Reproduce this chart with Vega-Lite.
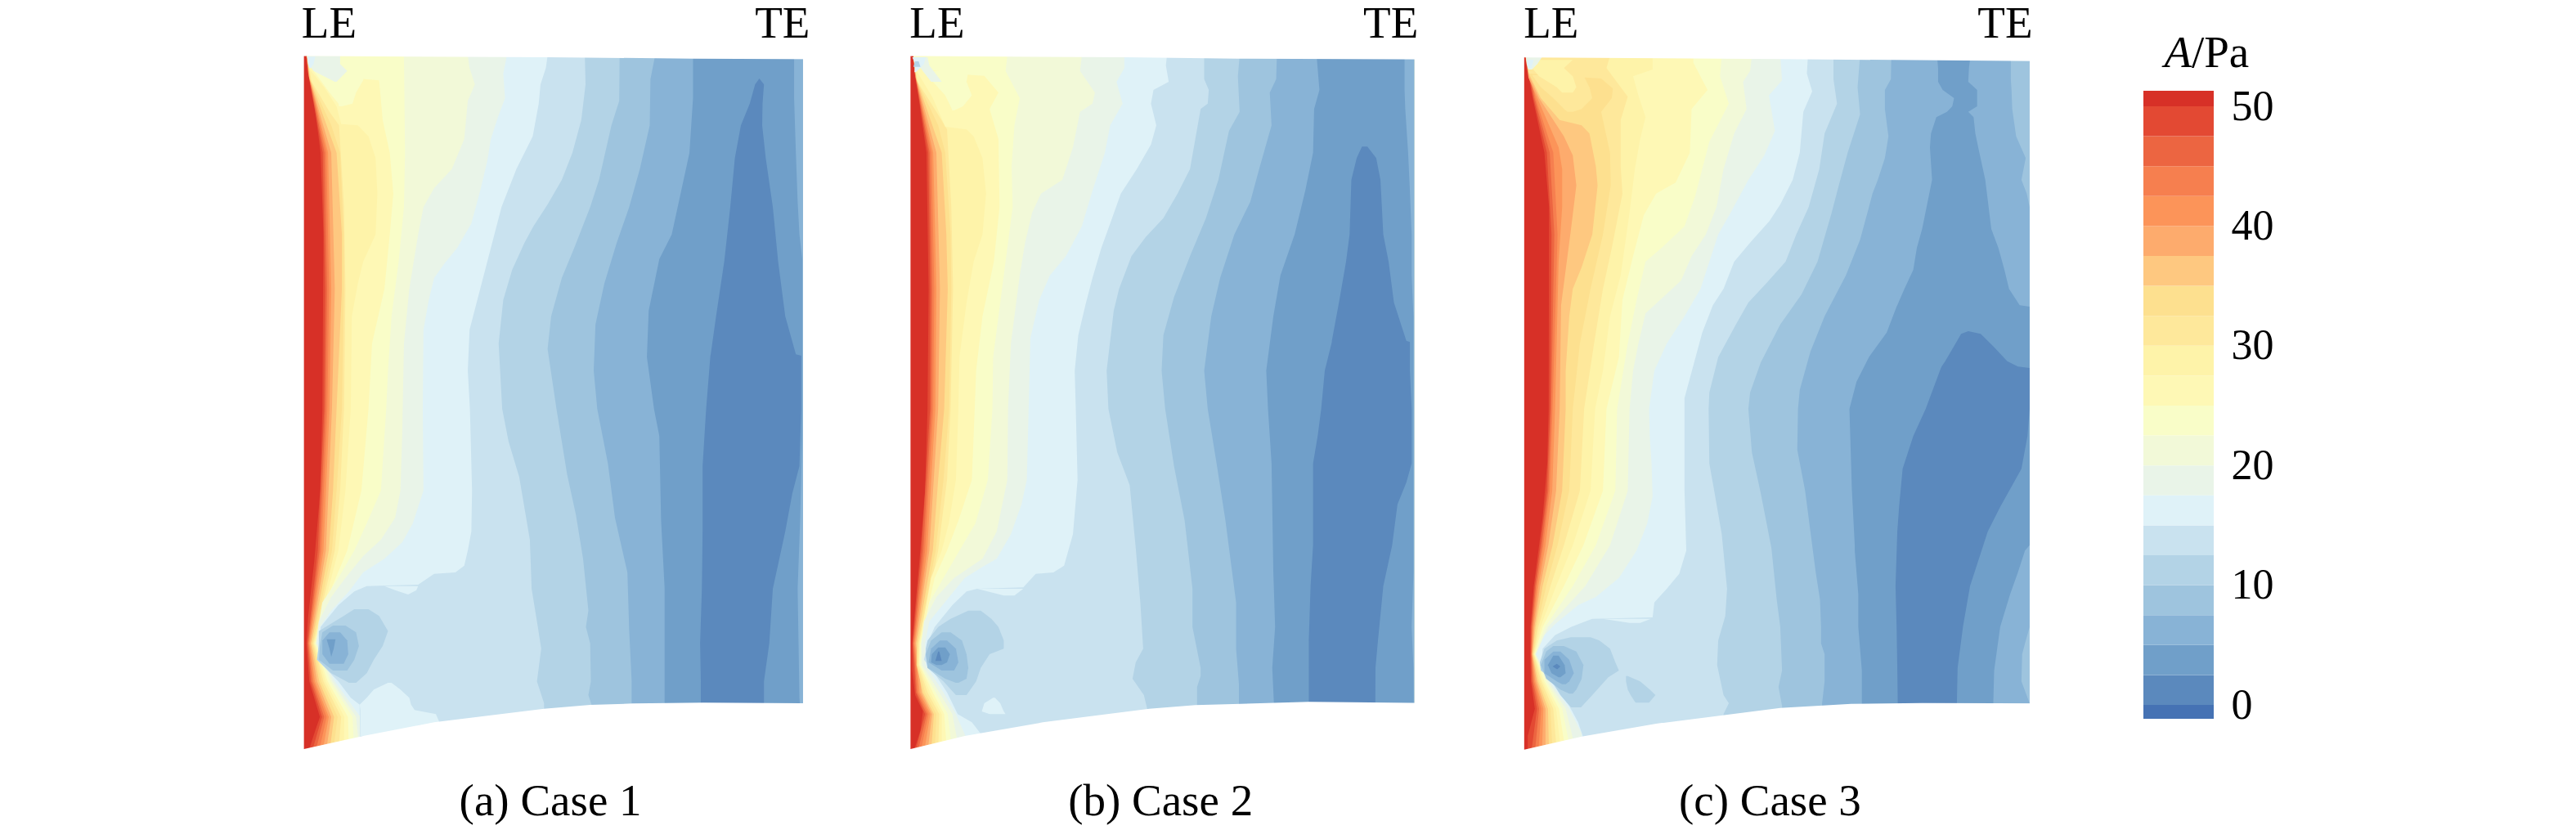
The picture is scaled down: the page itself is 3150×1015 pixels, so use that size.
{"$schema":"https://vega.github.io/schema/vega-lite/v6.json","padding":{"left":340,"top":0,"right":0,"bottom":0},"autosize":"pad","spacing":0,"bounds":"flush","config":{"view":{"stroke":null},"text":{"font":"Liberation Serif","fontSize":55,"color":"#000"}},
"datasets":{
"o1":[
{"b":51,"y":145,"x":73},{"b":51,"y":2700,"x":73},
{"b":50,"y":145,"x":80},{"b":50,"y":200,"x":84},{"b":50,"y":300,"x":100},{"b":50,"y":500,"x":120},{"b":50,"y":800,"x":128},{"b":50,"y":1440,"x":125},{"b":50,"y":1740,"x":119},{"b":50,"y":2000,"x":102},{"b":50,"y":2200,"x":85},{"b":50,"y":2300,"x":80},{"b":50,"y":2440,"x":88},{"b":50,"y":2570,"x":118},{"b":50,"y":2620,"x":105},{"b":50,"y":2700,"x":85},
{"b":47.5,"y":145,"x":80},{"b":47.5,"y":210,"x":85},{"b":47.5,"y":500,"x":126},{"b":47.5,"y":1000,"x":133},{"b":47.5,"y":1440,"x":130},{"b":47.5,"y":1960,"x":112},{"b":47.5,"y":2300,"x":83},{"b":47.5,"y":2440,"x":92},{"b":47.5,"y":2570,"x":124},{"b":47.5,"y":2700,"x":95},
{"b":45,"y":145,"x":80},{"b":45,"y":215,"x":86},{"b":45,"y":500,"x":131},{"b":45,"y":1000,"x":138},{"b":45,"y":1440,"x":134},{"b":45,"y":1960,"x":117},{"b":45,"y":2300,"x":85},{"b":45,"y":2440,"x":96},{"b":45,"y":2570,"x":130},{"b":45,"y":2700,"x":105},
{"b":42.5,"y":145,"x":81},{"b":42.5,"y":220,"x":87},{"b":42.5,"y":500,"x":136},{"b":42.5,"y":1000,"x":144},{"b":42.5,"y":1440,"x":139},{"b":42.5,"y":1960,"x":122},{"b":42.5,"y":2300,"x":87},{"b":42.5,"y":2440,"x":100},{"b":42.5,"y":2570,"x":137},{"b":42.5,"y":2700,"x":115},
{"b":40,"y":145,"x":81},{"b":40,"y":222,"x":88},{"b":40,"y":500,"x":141},{"b":40,"y":1000,"x":150},{"b":40,"y":1440,"x":145},{"b":40,"y":1960,"x":128},{"b":40,"y":2300,"x":89},{"b":40,"y":2440,"x":104},{"b":40,"y":2570,"x":143},{"b":40,"y":2700,"x":125},
{"b":37.5,"y":145,"x":82},{"b":37.5,"y":225,"x":88},{"b":37.5,"y":500,"x":150},{"b":37.5,"y":1000,"x":160},{"b":37.5,"y":1440,"x":152},{"b":37.5,"y":1960,"x":135},{"b":37.5,"y":2300,"x":92},{"b":37.5,"y":2440,"x":110},{"b":37.5,"y":2570,"x":150},{"b":37.5,"y":2700,"x":135},
{"b":35,"y":145,"x":82},{"b":35,"y":230,"x":90},{"b":35,"y":500,"x":165},{"b":35,"y":800,"x":180},{"b":35,"y":1000,"x":180},{"b":35,"y":1440,"x":165},{"b":35,"y":1740,"x":155},{"b":35,"y":1960,"x":143},{"b":35,"y":2300,"x":95},{"b":35,"y":2440,"x":116},{"b":35,"y":2570,"x":158},{"b":35,"y":2700,"x":145},
{"b":32.5,"y":145,"x":82},{"b":32.5,"y":235,"x":92},{"b":32.5,"y":400,"x":150},{"b":32.5,"y":500,"x":175},{"b":32.5,"y":800,"x":185},{"b":32.5,"y":1000,"x":186},{"b":32.5,"y":1440,"x":180},{"b":32.5,"y":1740,"x":165},{"b":32.5,"y":1960,"x":152},{"b":32.5,"y":2300,"x":98},{"b":32.5,"y":2440,"x":122},{"b":32.5,"y":2570,"x":168},{"b":32.5,"y":2700,"x":155},
{"b":30,"y":145,"x":82},{"b":30,"y":240,"x":95},{"b":30,"y":350,"x":145},{"b":30,"y":400,"x":172},{"b":30,"y":700,"x":186},{"b":30,"y":1000,"x":190},{"b":30,"y":1440,"x":186},{"b":30,"y":1740,"x":175},{"b":30,"y":1960,"x":160},{"b":30,"y":2300,"x":100},{"b":30,"y":2440,"x":128},{"b":30,"y":2570,"x":178},{"b":30,"y":2700,"x":170},
{"b":27.5,"y":145,"x":82},{"b":27.5,"y":195,"x":90},{"b":27.5,"y":260,"x":130},{"b":27.5,"y":330,"x":165},{"b":27.5,"y":395,"x":178},{"b":27.5,"y":400,"x":225},{"b":27.5,"y":440,"x":255},{"b":27.5,"y":520,"x":275},{"b":27.5,"y":650,"x":280},{"b":27.5,"y":800,"x":275},{"b":27.5,"y":900,"x":240},{"b":27.5,"y":980,"x":225},{"b":27.5,"y":1100,"x":208},{"b":27.5,"y":1440,"x":205},{"b":27.5,"y":1740,"x":190},{"b":27.5,"y":1960,"x":170},{"b":27.5,"y":2300,"x":102},{"b":27.5,"y":2440,"x":134},{"b":27.5,"y":2570,"x":187},{"b":27.5,"y":2700,"x":185},
{"b":25,"y":145,"x":85},{"b":25,"y":190,"x":95},{"b":25,"y":230,"x":245},{"b":25,"y":235,"x":285},{"b":25,"y":380,"x":295},{"b":25,"y":500,"x":315},{"b":25,"y":650,"x":325},{"b":25,"y":800,"x":315},{"b":25,"y":1000,"x":300},{"b":25,"y":1200,"x":265},{"b":25,"y":1440,"x":255},{"b":25,"y":1740,"x":235},{"b":25,"y":1960,"x":195},{"b":25,"y":2100,"x":150},{"b":25,"y":2300,"x":104},{"b":25,"y":2440,"x":140},{"b":25,"y":2570,"x":197},{"b":25,"y":2700,"x":200},
{"b":22.5,"y":145,"x":355},{"b":22.5,"y":500,"x":358},{"b":22.5,"y":700,"x":355},{"b":22.5,"y":900,"x":340},{"b":22.5,"y":1100,"x":320},{"b":22.5,"y":1300,"x":310},{"b":22.5,"y":1440,"x":305},{"b":22.5,"y":1740,"x":290},{"b":22.5,"y":1860,"x":250},{"b":22.5,"y":1960,"x":215},{"b":22.5,"y":2060,"x":170},{"b":22.5,"y":2150,"x":125},{"b":22.5,"y":2300,"x":106},{"b":22.5,"y":2440,"x":147},{"b":22.5,"y":2570,"x":210},{"b":22.5,"y":2700,"x":215},
{"b":20,"y":145,"x":535},{"b":20,"y":190,"x":540},{"b":20,"y":250,"x":555},{"b":20,"y":310,"x":535},{"b":20,"y":450,"x":525},{"b":20,"y":560,"x":490},{"b":20,"y":630,"x":440},{"b":20,"y":700,"x":410},{"b":20,"y":800,"x":395},{"b":20,"y":1000,"x":370},{"b":20,"y":1200,"x":355},{"b":20,"y":1540,"x":350},{"b":20,"y":1740,"x":345},{"b":20,"y":1840,"x":330},{"b":20,"y":1920,"x":290},{"b":20,"y":1980,"x":240},{"b":20,"y":2060,"x":190},{"b":20,"y":2130,"x":150},{"b":20,"y":2220,"x":115},{"b":20,"y":2300,"x":108},{"b":20,"y":2440,"x":153},{"b":20,"y":2570,"x":220},{"b":20,"y":2700,"x":230},
{"b":17.5,"y":145,"x":645},{"b":17.5,"y":210,"x":635},{"b":17.5,"y":300,"x":640},{"b":17.5,"y":370,"x":620},{"b":17.5,"y":450,"x":600},{"b":17.5,"y":530,"x":590},{"b":17.5,"y":640,"x":570},{"b":17.5,"y":760,"x":545},{"b":17.5,"y":850,"x":505},{"b":17.5,"y":905,"x":470},{"b":17.5,"y":960,"x":440},{"b":17.5,"y":1040,"x":425},{"b":17.5,"y":1150,"x":410},{"b":17.5,"y":1440,"x":408},{"b":17.5,"y":1740,"x":410},{"b":17.5,"y":1860,"x":380},{"b":17.5,"y":1930,"x":350},{"b":17.5,"y":1990,"x":300},{"b":17.5,"y":2040,"x":240},{"b":17.5,"y":2110,"x":200},{"b":17.5,"y":2180,"x":150},{"b":17.5,"y":2240,"x":118},{"b":17.5,"y":2300,"x":110},{"b":17.5,"y":2440,"x":160},{"b":17.5,"y":2570,"x":232},{"b":17.5,"y":2700,"x":245},
{"b":15,"y":145,"x":760},{"b":15,"y":190,"x":755},{"b":15,"y":250,"x":740},{"b":15,"y":320,"x":735},{"b":15,"y":440,"x":718},{"b":15,"y":560,"x":672},{"b":15,"y":700,"x":630},{"b":15,"y":850,"x":600},{"b":15,"y":1000,"x":570},{"b":15,"y":1150,"x":540},{"b":15,"y":1300,"x":535},{"b":15,"y":1440,"x":541},{"b":15,"y":1740,"x":547},{"b":15,"y":1890,"x":545},{"b":15,"y":1960,"x":535},{"b":15,"y":2015,"x":525},{"b":15,"y":2040,"x":500},{"b":15,"y":2045,"x":440},{"b":15,"y":2085,"x":395},{"b":15,"y":2090,"x":250},{"b":15,"y":2110,"x":215},{"b":15,"y":2160,"x":170},{"b":15,"y":2240,"x":120},{"b":15,"y":2310,"x":114},{"b":15,"y":2360,"x":110},{"b":15,"y":2440,"x":170},{"b":15,"y":2500,"x":205},{"b":15,"y":2525,"x":230},{"b":15,"y":2700,"x":232},
{"b":12.5,"y":145,"x":865},{"b":12.5,"y":250,"x":867},{"b":12.5,"y":380,"x":855},{"b":12.5,"y":500,"x":830},{"b":12.5,"y":600,"x":800},{"b":12.5,"y":690,"x":760},{"b":12.5,"y":770,"x":720},{"b":12.5,"y":830,"x":695},{"b":12.5,"y":930,"x":660},{"b":12.5,"y":1040,"x":635},{"b":12.5,"y":1200,"x":622},{"b":12.5,"y":1440,"x":632},{"b":12.5,"y":1560,"x":650},{"b":12.5,"y":1690,"x":680},{"b":12.5,"y":1920,"x":710},{"b":12.5,"y":2100,"x":715},{"b":12.5,"y":2220,"x":730},{"b":12.5,"y":2320,"x":742},{"b":12.5,"y":2440,"x":730},{"b":12.5,"y":2520,"x":750},{"b":12.5,"y":2700,"x":750},
{"b":10,"y":145,"x":963},{"b":10,"y":310,"x":962},{"b":10,"y":400,"x":940},{"b":10,"y":600,"x":905},{"b":10,"y":700,"x":880},{"b":10,"y":850,"x":835},{"b":10,"y":960,"x":800},{"b":10,"y":1100,"x":770},{"b":10,"y":1220,"x":760},{"b":10,"y":1440,"x":785},{"b":10,"y":1680,"x":815},{"b":10,"y":1830,"x":840},{"b":10,"y":1990,"x":860},{"b":10,"y":2180,"x":875},{"b":10,"y":2240,"x":868},{"b":10,"y":2300,"x":880},{"b":10,"y":2440,"x":882},{"b":10,"y":2490,"x":875},{"b":10,"y":2530,"x":885},{"b":10,"y":2700,"x":885},
{"b":7.5,"y":145,"x":1063},{"b":7.5,"y":230,"x":1050},{"b":7.5,"y":400,"x":1048},{"b":7.5,"y":560,"x":1020},{"b":7.5,"y":700,"x":990},{"b":7.5,"y":830,"x":955},{"b":7.5,"y":980,"x":920},{"b":7.5,"y":1130,"x":895},{"b":7.5,"y":1300,"x":890},{"b":7.5,"y":1440,"x":900},{"b":7.5,"y":1640,"x":930},{"b":7.5,"y":1840,"x":950},{"b":7.5,"y":2040,"x":985},{"b":7.5,"y":2250,"x":990},{"b":7.5,"y":2440,"x":997},{"b":7.5,"y":2700,"x":997}
],
"c1":[
{"p":"a","b":5,"y":145,"x":1170,"e":1455},{"p":"a","b":5,"y":300,"x":1170,"e":1455},{"p":"a","b":5,"y":500,"x":1160,"e":1460},{"p":"a","b":5,"y":680,"x":1130,"e":1465},{"p":"a","b":5,"y":800,"x":1110,"e":1470},{"p":"a","b":5,"y":890,"x":1075,"e":1478},{"p":"a","b":5,"y":1080,"x":1045,"e":1478},{"p":"a","b":5,"y":1250,"x":1040,"e":1478},{"p":"a","b":5,"y":1440,"x":1060,"e":1478},{"p":"a","b":5,"y":1540,"x":1075,"e":1478},{"p":"a","b":5,"y":1850,"x":1080,"e":1472},{"p":"a","b":5,"y":2100,"x":1090,"e":1465},{"p":"a","b":5,"y":2500,"x":1090,"e":1470},{"p":"a","b":5,"y":2700,"x":1090,"e":1480},
{"p":"b","b":2.5,"y":228,"x":1357,"e":1357},{"p":"b","b":2.5,"y":250,"x":1345,"e":1370},{"p":"b","b":2.5,"y":320,"x":1330,"e":1366},{"p":"b","b":2.5,"y":400,"x":1305,"e":1365},{"p":"b","b":2.5,"y":520,"x":1288,"e":1375},{"p":"b","b":2.5,"y":700,"x":1275,"e":1395},{"p":"b","b":2.5,"y":900,"x":1258,"e":1410},{"p":"b","b":2.5,"y":1100,"x":1235,"e":1430},{"p":"b","b":2.5,"y":1240,"x":1220,"e":1460},{"p":"b","b":2.5,"y":1245,"x":1219,"e":1475},{"p":"b","b":2.5,"y":1440,"x":1207,"e":1475},{"p":"b","b":2.5,"y":1650,"x":1197,"e":1470},{"p":"b","b":2.5,"y":1750,"x":1197,"e":1450},{"p":"b","b":2.5,"y":1890,"x":1197,"e":1430},{"p":"b","b":2.5,"y":2100,"x":1195,"e":1395},{"p":"b","b":2.5,"y":2300,"x":1190,"e":1385},{"p":"b","b":2.5,"y":2440,"x":1192,"e":1370},{"p":"b","b":2.5,"y":2700,"x":1192,"e":1370},
{"p":"t1","b":25,"y":200,"x":100,"e":245},{"p":"t1","b":25,"y":235,"x":120,"e":240},{"p":"t1","b":25,"y":280,"x":145,"e":220},{"p":"t1","b":25,"y":320,"x":170,"e":210},{"p":"t1","b":25,"y":330,"x":172,"e":180},
{"p":"t2","b":17.5,"y":2090,"x":300,"e":395},{"p":"t2","b":17.5,"y":2105,"x":330,"e":390},{"p":"t2","b":17.5,"y":2120,"x":365,"e":368},
{"p":"t3","b":17.5,"y":2445,"x":310,"e":320},{"p":"t3","b":17.5,"y":2470,"x":270,"e":345},{"p":"t3","b":17.5,"y":2500,"x":250,"e":370},{"p":"t3","b":17.5,"y":2525,"x":230,"e":375},{"p":"t3","b":17.5,"y":2545,"x":232,"e":385},{"p":"t3","b":17.5,"y":2560,"x":232,"e":445},{"p":"t3","b":17.5,"y":2590,"x":232,"e":455},{"p":"t3","b":17.5,"y":2640,"x":232,"e":445},
{"p":"t4","b":20,"y":145,"x":82,"e":175},{"p":"t4","b":20,"y":175,"x":85,"e":175},{"p":"t4","b":20,"y":200,"x":100,"e":195},{"p":"t4","b":20,"y":240,"x":160,"e":165},
{"p":"t5","b":17.5,"y":148,"x":82,"e":105},{"p":"t5","b":17.5,"y":175,"x":85,"e":100},{"p":"t5","b":17.5,"y":190,"x":88,"e":92},
{"p":"v1","b":12.5,"y":2175,"x":215,"e":255},{"p":"v1","b":12.5,"y":2200,"x":185,"e":285},{"p":"v1","b":12.5,"y":2255,"x":115,"e":310},{"p":"v1","b":12.5,"y":2310,"x":115,"e":295},{"p":"v1","b":12.5,"y":2360,"x":110,"e":270},{"p":"v1","b":12.5,"y":2410,"x":150,"e":250},{"p":"v1","b":12.5,"y":2445,"x":200,"e":220},
{"p":"v2","b":10,"y":2235,"x":155,"e":190},{"p":"v2","b":10,"y":2260,"x":125,"e":220},{"p":"v2","b":10,"y":2310,"x":118,"e":228},{"p":"v2","b":10,"y":2360,"x":115,"e":215},{"p":"v2","b":10,"y":2400,"x":155,"e":195},
{"p":"v3","b":7.5,"y":2260,"x":145,"e":175},{"p":"v3","b":7.5,"y":2290,"x":125,"e":195},{"p":"v3","b":7.5,"y":2340,"x":125,"e":198},{"p":"v3","b":7.5,"y":2375,"x":145,"e":185},
{"p":"v4","b":5,"y":2285,"x":137,"e":162},{"p":"v4","b":5,"y":2320,"x":145,"e":157},{"p":"v4","b":5,"y":2350,"x":150,"e":150}
],
"m1":[{"m":"t","x":0,"y":145,"z":100},{"m":"t","x":760,"y":150,"z":100},{"m":"t","x":1170,"y":155,"z":100},{"m":"t","x":1600,"y":158,"z":100},
{"m":"b","x":0,"y":2688,"z":2985},{"m":"b","x":73,"y":2688,"z":2985},{"m":"b","x":240,"y":2640,"z":2985},{"m":"b","x":440,"y":2590,"z":2985},{"m":"b","x":750,"y":2540,"z":2985},{"m":"b","x":880,"y":2526,"z":2985},{"m":"b","x":1000,"y":2521,"z":2985},{"m":"b","x":1200,"y":2518,"z":2985},{"m":"b","x":1600,"y":2521,"z":2985}],
"t1":[{"t":"LE","x":144,"y":78},{"t":"TE","x":1422,"y":78},{"t":"(a) Case 1","x":768,"y":2930}],
"o2":[
{"b":51,"y":145,"x":77},{"b":51,"y":2700,"x":77},
{"b":50,"y":145,"x":85},{"b":50,"y":200,"x":88},{"b":50,"y":300,"x":100},{"b":50,"y":500,"x":122},{"b":50,"y":1000,"x":128},{"b":50,"y":1440,"x":125},{"b":50,"y":1740,"x":118},{"b":50,"y":2000,"x":102},{"b":50,"y":2200,"x":88},{"b":50,"y":2300,"x":82},{"b":50,"y":2400,"x":82},{"b":50,"y":2490,"x":90},{"b":50,"y":2550,"x":112},{"b":50,"y":2620,"x":105},{"b":50,"y":2700,"x":85},
{"b":47.5,"y":145,"x":85},{"b":47.5,"y":210,"x":89},{"b":47.5,"y":500,"x":127},{"b":47.5,"y":1000,"x":133},{"b":47.5,"y":1440,"x":132},{"b":47.5,"y":1960,"x":108},{"b":47.5,"y":2300,"x":83},{"b":47.5,"y":2480,"x":92},{"b":47.5,"y":2560,"x":118},{"b":47.5,"y":2700,"x":90},
{"b":45,"y":145,"x":85},{"b":45,"y":215,"x":90},{"b":45,"y":500,"x":131},{"b":45,"y":1000,"x":138},{"b":45,"y":1440,"x":136},{"b":45,"y":1960,"x":113},{"b":45,"y":2300,"x":85},{"b":45,"y":2480,"x":95},{"b":45,"y":2560,"x":123},{"b":45,"y":2700,"x":97},
{"b":42.5,"y":145,"x":85},{"b":42.5,"y":220,"x":91},{"b":42.5,"y":500,"x":136},{"b":42.5,"y":1000,"x":144},{"b":42.5,"y":1440,"x":141},{"b":42.5,"y":1960,"x":118},{"b":42.5,"y":2300,"x":87},{"b":42.5,"y":2480,"x":99},{"b":42.5,"y":2560,"x":128},{"b":42.5,"y":2700,"x":105},
{"b":40,"y":145,"x":85},{"b":40,"y":225,"x":92},{"b":40,"y":500,"x":141},{"b":40,"y":1000,"x":150},{"b":40,"y":1440,"x":147},{"b":40,"y":1960,"x":124},{"b":40,"y":2300,"x":89},{"b":40,"y":2480,"x":103},{"b":40,"y":2560,"x":133},{"b":40,"y":2700,"x":115},
{"b":37.5,"y":145,"x":85},{"b":37.5,"y":228,"x":93},{"b":37.5,"y":500,"x":150},{"b":37.5,"y":1000,"x":160},{"b":37.5,"y":1440,"x":155},{"b":37.5,"y":1960,"x":130},{"b":37.5,"y":2300,"x":92},{"b":37.5,"y":2480,"x":108},{"b":37.5,"y":2560,"x":138},{"b":37.5,"y":2700,"x":125},
{"b":35,"y":145,"x":85},{"b":35,"y":230,"x":94},{"b":35,"y":500,"x":165},{"b":35,"y":800,"x":178},{"b":35,"y":1000,"x":182},{"b":35,"y":1440,"x":172},{"b":35,"y":1700,"x":155},{"b":35,"y":1960,"x":140},{"b":35,"y":2300,"x":95},{"b":35,"y":2380,"x":94},{"b":35,"y":2480,"x":112},{"b":35,"y":2560,"x":143},{"b":35,"y":2700,"x":135},
{"b":32.5,"y":145,"x":85},{"b":32.5,"y":235,"x":95},{"b":32.5,"y":400,"x":155},{"b":32.5,"y":500,"x":175},{"b":32.5,"y":800,"x":190},{"b":32.5,"y":1000,"x":192},{"b":32.5,"y":1440,"x":186},{"b":32.5,"y":1700,"x":170},{"b":32.5,"y":1960,"x":148},{"b":32.5,"y":2300,"x":98},{"b":32.5,"y":2380,"x":97},{"b":32.5,"y":2480,"x":118},{"b":32.5,"y":2560,"x":150},{"b":32.5,"y":2700,"x":145},
{"b":30,"y":145,"x":85},{"b":30,"y":240,"x":97},{"b":30,"y":350,"x":150},{"b":30,"y":415,"x":180},{"b":30,"y":700,"x":192},{"b":30,"y":1000,"x":197},{"b":30,"y":1440,"x":190},{"b":30,"y":1700,"x":180},{"b":30,"y":1960,"x":155},{"b":30,"y":2300,"x":100},{"b":30,"y":2380,"x":99},{"b":30,"y":2480,"x":125},{"b":30,"y":2560,"x":158},{"b":30,"y":2700,"x":155},
{"b":27.5,"y":145,"x":85},{"b":27.5,"y":195,"x":92},{"b":27.5,"y":300,"x":140},{"b":27.5,"y":405,"x":175},{"b":27.5,"y":415,"x":235},{"b":27.5,"y":440,"x":255},{"b":27.5,"y":520,"x":280},{"b":27.5,"y":650,"x":290},{"b":27.5,"y":800,"x":280},{"b":27.5,"y":900,"x":255},{"b":27.5,"y":1050,"x":235},{"b":27.5,"y":1250,"x":215},{"b":27.5,"y":1440,"x":212},{"b":27.5,"y":1700,"x":205},{"b":27.5,"y":1860,"x":185},{"b":27.5,"y":1960,"x":165},{"b":27.5,"y":2060,"x":135},{"b":27.5,"y":2300,"x":102},{"b":27.5,"y":2380,"x":101},{"b":27.5,"y":2480,"x":132},{"b":27.5,"y":2560,"x":165},{"b":27.5,"y":2700,"x":165},
{"b":25,"y":145,"x":85},{"b":25,"y":190,"x":95},{"b":25,"y":214,"x":235},{"b":25,"y":218,"x":285},{"b":25,"y":280,"x":325},{"b":25,"y":340,"x":300},{"b":25,"y":450,"x":325},{"b":25,"y":700,"x":328},{"b":25,"y":900,"x":312},{"b":25,"y":1100,"x":280},{"b":25,"y":1300,"x":262},{"b":25,"y":1440,"x":258},{"b":25,"y":1700,"x":250},{"b":25,"y":1850,"x":212},{"b":25,"y":1960,"x":180},{"b":25,"y":2060,"x":145},{"b":25,"y":2300,"x":104},{"b":25,"y":2380,"x":103},{"b":25,"y":2480,"x":140},{"b":25,"y":2560,"x":172},{"b":25,"y":2700,"x":180},
{"b":22.5,"y":145,"x":350},{"b":22.5,"y":200,"x":345},{"b":22.5,"y":300,"x":385},{"b":22.5,"y":400,"x":370},{"b":22.5,"y":550,"x":362},{"b":22.5,"y":700,"x":365},{"b":22.5,"y":850,"x":350},{"b":22.5,"y":1050,"x":330},{"b":22.5,"y":1250,"x":310},{"b":22.5,"y":1440,"x":308},{"b":22.5,"y":1700,"x":295},{"b":22.5,"y":1860,"x":260},{"b":22.5,"y":1960,"x":215},{"b":22.5,"y":2060,"x":170},{"b":22.5,"y":2150,"x":130},{"b":22.5,"y":2300,"x":106},{"b":22.5,"y":2380,"x":105},{"b":22.5,"y":2480,"x":148},{"b":22.5,"y":2560,"x":182},{"b":22.5,"y":2700,"x":195},
{"b":20,"y":145,"x":560},{"b":20,"y":200,"x":555},{"b":20,"y":280,"x":597},{"b":20,"y":320,"x":590},{"b":20,"y":350,"x":555},{"b":20,"y":480,"x":535},{"b":20,"y":600,"x":505},{"b":20,"y":650,"x":445},{"b":20,"y":720,"x":420},{"b":20,"y":830,"x":400},{"b":20,"y":950,"x":385},{"b":20,"y":1200,"x":360},{"b":20,"y":1440,"x":352},{"b":20,"y":1700,"x":350},{"b":20,"y":1890,"x":320},{"b":20,"y":1990,"x":280},{"b":20,"y":2060,"x":200},{"b":20,"y":2130,"x":150},{"b":20,"y":2220,"x":115},{"b":20,"y":2300,"x":108},{"b":20,"y":2380,"x":110},{"b":20,"y":2480,"x":158},{"b":20,"y":2560,"x":195},{"b":20,"y":2700,"x":215},
{"b":17.5,"y":145,"x":680},{"b":17.5,"y":190,"x":680},{"b":17.5,"y":240,"x":658},{"b":17.5,"y":320,"x":675},{"b":17.5,"y":400,"x":640},{"b":17.5,"y":500,"x":625},{"b":17.5,"y":640,"x":590},{"b":17.5,"y":770,"x":560},{"b":17.5,"y":880,"x":515},{"b":17.5,"y":950,"x":470},{"b":17.5,"y":1040,"x":440},{"b":17.5,"y":1180,"x":415},{"b":17.5,"y":1440,"x":410},{"b":17.5,"y":1700,"x":405},{"b":17.5,"y":1790,"x":390},{"b":17.5,"y":1900,"x":360},{"b":17.5,"y":1990,"x":320},{"b":17.5,"y":2020,"x":280},{"b":17.5,"y":2060,"x":230},{"b":17.5,"y":2140,"x":180},{"b":17.5,"y":2220,"x":130},{"b":17.5,"y":2300,"x":118},{"b":17.5,"y":2380,"x":120},{"b":17.5,"y":2480,"x":170},{"b":17.5,"y":2560,"x":205},{"b":17.5,"y":2640,"x":232},{"b":17.5,"y":2700,"x":232},
{"b":15,"y":145,"x":800},{"b":15,"y":180,"x":797},{"b":15,"y":240,"x":805},{"b":15,"y":270,"x":762},{"b":15,"y":320,"x":755},{"b":15,"y":400,"x":770},{"b":15,"y":470,"x":755},{"b":15,"y":560,"x":715},{"b":15,"y":650,"x":670},{"b":15,"y":760,"x":640},{"b":15,"y":850,"x":615},{"b":15,"y":960,"x":590},{"b":15,"y":1060,"x":570},{"b":15,"y":1170,"x":550},{"b":15,"y":1300,"x":540},{"b":15,"y":1440,"x":543},{"b":15,"y":1700,"x":548},{"b":15,"y":1900,"x":535},{"b":15,"y":2015,"x":510},{"b":15,"y":2040,"x":480},{"b":15,"y":2045,"x":430},{"b":15,"y":2095,"x":395},{"b":15,"y":2100,"x":265},{"b":15,"y":2110,"x":235},{"b":15,"y":2160,"x":195},{"b":15,"y":2240,"x":145},{"b":15,"y":2300,"x":125},{"b":15,"y":2360,"x":115},{"b":15,"y":2420,"x":150},{"b":15,"y":2480,"x":180},{"b":15,"y":2560,"x":210},{"b":15,"y":2590,"x":250},{"b":15,"y":2640,"x":280},{"b":15,"y":2700,"x":280},
{"b":12.5,"y":145,"x":905},{"b":12.5,"y":230,"x":905},{"b":12.5,"y":270,"x":918},{"b":12.5,"y":320,"x":915},{"b":12.5,"y":340,"x":895},{"b":12.5,"y":450,"x":880},{"b":12.5,"y":560,"x":865},{"b":12.5,"y":650,"x":830},{"b":12.5,"y":740,"x":790},{"b":12.5,"y":810,"x":740},{"b":12.5,"y":880,"x":700},{"b":12.5,"y":1000,"x":665},{"b":12.5,"y":1080,"x":650},{"b":12.5,"y":1300,"x":630},{"b":12.5,"y":1440,"x":635},{"b":12.5,"y":1600,"x":660},{"b":12.5,"y":1720,"x":695},{"b":12.5,"y":1950,"x":712},{"b":12.5,"y":2150,"x":725},{"b":12.5,"y":2320,"x":733},{"b":12.5,"y":2370,"x":712},{"b":12.5,"y":2430,"x":703},{"b":12.5,"y":2490,"x":735},{"b":12.5,"y":2560,"x":748},{"b":12.5,"y":2700,"x":748},
{"b":10,"y":145,"x":1005},{"b":10,"y":220,"x":1000},{"b":10,"y":350,"x":1005},{"b":10,"y":420,"x":975},{"b":10,"y":600,"x":945},{"b":10,"y":740,"x":910},{"b":10,"y":880,"x":865},{"b":10,"y":1030,"x":820},{"b":10,"y":1170,"x":790},{"b":10,"y":1300,"x":785},{"b":10,"y":1440,"x":795},{"b":10,"y":1650,"x":820},{"b":10,"y":1850,"x":850},{"b":10,"y":2100,"x":872},{"b":10,"y":2240,"x":872},{"b":10,"y":2390,"x":895},{"b":10,"y":2420,"x":895},{"b":10,"y":2460,"x":885},{"b":10,"y":2700,"x":885},
{"b":7.5,"y":145,"x":1110},{"b":7.5,"y":230,"x":1108},{"b":7.5,"y":280,"x":1090},{"b":7.5,"y":400,"x":1095},{"b":7.5,"y":560,"x":1060},{"b":7.5,"y":680,"x":1035},{"b":7.5,"y":800,"x":990},{"b":7.5,"y":960,"x":950},{"b":7.5,"y":1100,"x":925},{"b":7.5,"y":1300,"x":905},{"b":7.5,"y":1440,"x":915},{"b":7.5,"y":1640,"x":940},{"b":7.5,"y":1850,"x":965},{"b":7.5,"y":2150,"x":995},{"b":7.5,"y":2320,"x":995},{"b":7.5,"y":2450,"x":1003},{"b":7.5,"y":2700,"x":1003}
],
"c2":[
{"p":"a","b":5,"y":145,"x":1222,"e":1470},{"p":"a","b":5,"y":270,"x":1230,"e":1470},{"p":"a","b":5,"y":340,"x":1215,"e":1472},{"p":"a","b":5,"y":500,"x":1212,"e":1480},{"p":"a","b":5,"y":640,"x":1190,"e":1485},{"p":"a","b":5,"y":800,"x":1160,"e":1490},{"p":"a","b":5,"y":950,"x":1120,"e":1490},{"p":"a","b":5,"y":1100,"x":1100,"e":1495},{"p":"a","b":5,"y":1300,"x":1080,"e":1495},{"p":"a","b":5,"y":1440,"x":1085,"e":1495},{"p":"a","b":5,"y":1640,"x":1095,"e":1495},{"p":"a","b":5,"y":2040,"x":1100,"e":1495},{"p":"a","b":5,"y":2240,"x":1105,"e":1490},{"p":"a","b":5,"y":2390,"x":1097,"e":1495},{"p":"a","b":5,"y":2700,"x":1108,"e":1497},
{"p":"b","b":2.5,"y":478,"x":1350,"e":1365},{"p":"b","b":2.5,"y":520,"x":1335,"e":1390},{"p":"b","b":2.5,"y":600,"x":1320,"e":1402},{"p":"b","b":2.5,"y":800,"x":1315,"e":1410},{"p":"b","b":2.5,"y":900,"x":1305,"e":1425},{"p":"b","b":2.5,"y":1050,"x":1285,"e":1440},{"p":"b","b":2.5,"y":1190,"x":1265,"e":1475},{"p":"b","b":2.5,"y":1195,"x":1265,"e":1485},{"p":"b","b":2.5,"y":1300,"x":1245,"e":1485},{"p":"b","b":2.5,"y":1440,"x":1235,"e":1490},{"p":"b","b":2.5,"y":1540,"x":1225,"e":1490},{"p":"b","b":2.5,"y":1640,"x":1212,"e":1490},{"p":"b","b":2.5,"y":1710,"x":1212,"e":1475},{"p":"b","b":2.5,"y":1790,"x":1212,"e":1450},{"p":"b","b":2.5,"y":1940,"x":1212,"e":1435},{"p":"b","b":2.5,"y":2090,"x":1205,"e":1410},{"p":"b","b":2.5,"y":2290,"x":1200,"e":1395},{"p":"b","b":2.5,"y":2390,"x":1200,"e":1388},{"p":"b","b":2.5,"y":2700,"x":1200,"e":1387},
{"p":"t1","b":25,"y":200,"x":110,"e":240},{"p":"t1","b":25,"y":240,"x":140,"e":235},{"p":"t1","b":25,"y":290,"x":175,"e":250},{"p":"t1","b":25,"y":330,"x":190,"e":225},{"p":"t1","b":25,"y":345,"x":195,"e":200},
{"p":"t2","b":17.5,"y":2100,"x":265,"e":395},{"p":"t2","b":17.5,"y":2125,"x":340,"e":370},
{"p":"t3","b":17.5,"y":2500,"x":310,"e":315},{"p":"t3","b":17.5,"y":2520,"x":285,"e":330},{"p":"t3","b":17.5,"y":2550,"x":278,"e":340},{"p":"t3","b":17.5,"y":2560,"x":300,"e":345},
{"p":"t4","b":20,"y":150,"x":85,"e":125},{"p":"t4","b":20,"y":180,"x":100,"e":130},{"p":"t4","b":20,"y":240,"x":135,"e":165},
{"p":"t5","b":17.5,"y":150,"x":82,"e":120},{"p":"t5","b":17.5,"y":175,"x":90,"e":115},{"p":"t5","b":17.5,"y":205,"x":88,"e":92},
{"p":"t6","b":12.5,"y":165,"x":90,"e":100},{"p":"t6","b":12.5,"y":185,"x":85,"e":105},
{"p":"v1","b":12.5,"y":2180,"x":240,"e":275},{"p":"v1","b":12.5,"y":2210,"x":190,"e":305},{"p":"v1","b":12.5,"y":2240,"x":155,"e":325},{"p":"v1","b":12.5,"y":2290,"x":125,"e":340},{"p":"v1","b":12.5,"y":2320,"x":120,"e":340},{"p":"v1","b":12.5,"y":2340,"x":120,"e":300},{"p":"v1","b":12.5,"y":2390,"x":125,"e":275},{"p":"v1","b":12.5,"y":2440,"x":170,"e":262},{"p":"v1","b":12.5,"y":2490,"x":205,"e":235},
{"p":"v2","b":10,"y":2260,"x":165,"e":190},{"p":"v2","b":10,"y":2290,"x":135,"e":222},{"p":"v2","b":10,"y":2340,"x":120,"e":235},{"p":"v2","b":10,"y":2390,"x":125,"e":240},{"p":"v2","b":10,"y":2430,"x":175,"e":235},{"p":"v2","b":10,"y":2445,"x":205,"e":212},
{"p":"v3","b":7.5,"y":2290,"x":160,"e":180},{"p":"v3","b":7.5,"y":2320,"x":135,"e":205},{"p":"v3","b":7.5,"y":2370,"x":128,"e":212},{"p":"v3","b":7.5,"y":2400,"x":165,"e":200},
{"p":"v4","b":5,"y":2315,"x":155,"e":175},{"p":"v4","b":5,"y":2340,"x":137,"e":188},{"p":"v4","b":5,"y":2370,"x":135,"e":180},{"p":"v4","b":5,"y":2380,"x":150,"e":165},
{"p":"v5","b":2.5,"y":2330,"x":155,"e":158},{"p":"v5","b":2.5,"y":2365,"x":147,"e":165}
],
"m2":[{"m":"t","x":0,"y":145,"z":100},{"m":"t","x":680,"y":150,"z":100},{"m":"t","x":1000,"y":155,"z":100},{"m":"t","x":1600,"y":158,"z":100},
{"m":"b","x":0,"y":2688,"z":2985},{"m":"b","x":77,"y":2688,"z":2985},{"m":"b","x":230,"y":2640,"z":2985},{"m":"b","x":450,"y":2590,"z":2985},{"m":"b","x":750,"y":2540,"z":2985},{"m":"b","x":880,"y":2527,"z":2985},{"m":"b","x":1200,"y":2515,"z":2985},{"m":"b","x":1600,"y":2520,"z":2985}],
"t2":[{"t":"LE","x":152,"y":78},{"t":"TE","x":1431,"y":78},{"t":"(b) Case 2","x":782,"y":2930}],
"o3":[
{"b":51,"y":145,"x":78},{"b":51,"y":2700,"x":78},
{"b":50,"y":145,"x":80},{"b":50,"y":205,"x":88},{"b":50,"y":300,"x":102},{"b":50,"y":500,"x":135},{"b":50,"y":700,"x":148},{"b":50,"y":1440,"x":147},{"b":50,"y":1640,"x":143},{"b":50,"y":1840,"x":130},{"b":50,"y":1940,"x":120},{"b":50,"y":2090,"x":105},{"b":50,"y":2240,"x":96},{"b":50,"y":2340,"x":95},{"b":50,"y":2440,"x":97},{"b":50,"y":2540,"x":108},{"b":50,"y":2640,"x":88},{"b":50,"y":2700,"x":88},
{"b":47.5,"y":145,"x":81},{"b":47.5,"y":300,"x":104},{"b":47.5,"y":500,"x":142},{"b":47.5,"y":800,"x":155},{"b":47.5,"y":1440,"x":151},{"b":47.5,"y":1740,"x":142},{"b":47.5,"y":1940,"x":124},{"b":47.5,"y":2090,"x":108},{"b":47.5,"y":2240,"x":98},{"b":47.5,"y":2340,"x":97},{"b":47.5,"y":2440,"x":100},{"b":47.5,"y":2540,"x":114},{"b":47.5,"y":2700,"x":98},
{"b":45,"y":145,"x":82},{"b":45,"y":300,"x":107},{"b":45,"y":500,"x":150},{"b":45,"y":800,"x":163},{"b":45,"y":1440,"x":154},{"b":45,"y":1740,"x":146},{"b":45,"y":1940,"x":128},{"b":45,"y":2090,"x":111},{"b":45,"y":2240,"x":100},{"b":45,"y":2340,"x":98},{"b":45,"y":2440,"x":103},{"b":45,"y":2540,"x":120},{"b":45,"y":2700,"x":108},
{"b":42.5,"y":145,"x":82},{"b":42.5,"y":300,"x":110},{"b":42.5,"y":500,"x":160},{"b":42.5,"y":800,"x":172},{"b":42.5,"y":1440,"x":158},{"b":42.5,"y":1740,"x":150},{"b":42.5,"y":1940,"x":132},{"b":42.5,"y":2090,"x":114},{"b":42.5,"y":2240,"x":102},{"b":42.5,"y":2340,"x":99},{"b":42.5,"y":2440,"x":106},{"b":42.5,"y":2540,"x":126},{"b":42.5,"y":2700,"x":118},
{"b":40,"y":145,"x":82},{"b":40,"y":225,"x":90},{"b":40,"y":300,"x":115},{"b":40,"y":480,"x":175},{"b":40,"y":560,"x":185},{"b":40,"y":700,"x":185},{"b":40,"y":900,"x":175},{"b":40,"y":1440,"x":165},{"b":40,"y":1740,"x":157},{"b":40,"y":1940,"x":138},{"b":40,"y":2090,"x":118},{"b":40,"y":2240,"x":104},{"b":40,"y":2340,"x":100},{"b":40,"y":2440,"x":109},{"b":40,"y":2540,"x":132},{"b":40,"y":2700,"x":128},
{"b":37.5,"y":145,"x":82},{"b":37.5,"y":220,"x":92},{"b":37.5,"y":300,"x":120},{"b":37.5,"y":440,"x":190},{"b":37.5,"y":510,"x":215},{"b":37.5,"y":620,"x":225},{"b":37.5,"y":780,"x":210},{"b":37.5,"y":930,"x":195},{"b":37.5,"y":1060,"x":182},{"b":37.5,"y":1440,"x":178},{"b":37.5,"y":1740,"x":168},{"b":37.5,"y":1940,"x":146},{"b":37.5,"y":2090,"x":123},{"b":37.5,"y":2240,"x":107},{"b":37.5,"y":2340,"x":101},{"b":37.5,"y":2440,"x":113},{"b":37.5,"y":2540,"x":138},{"b":37.5,"y":2700,"x":138},
{"b":35,"y":145,"x":82},{"b":35,"y":215,"x":93},{"b":35,"y":300,"x":125},{"b":35,"y":380,"x":178},{"b":35,"y":400,"x":240},{"b":35,"y":430,"x":262},{"b":35,"y":550,"x":280},{"b":35,"y":620,"x":285},{"b":35,"y":800,"x":270},{"b":35,"y":920,"x":240},{"b":35,"y":1000,"x":215},{"b":35,"y":1100,"x":205},{"b":35,"y":1300,"x":195},{"b":35,"y":1440,"x":195},{"b":35,"y":1740,"x":185},{"b":35,"y":1940,"x":158},{"b":35,"y":2090,"x":130},{"b":35,"y":2240,"x":110},{"b":35,"y":2340,"x":102},{"b":35,"y":2440,"x":117},{"b":35,"y":2540,"x":145},{"b":35,"y":2700,"x":148},
{"b":32.5,"y":145,"x":82},{"b":32.5,"y":210,"x":92},{"b":32.5,"y":224,"x":250},{"b":32.5,"y":228,"x":295},{"b":32.5,"y":265,"x":328},{"b":32.5,"y":300,"x":325},{"b":32.5,"y":350,"x":295},{"b":32.5,"y":500,"x":320},{"b":32.5,"y":620,"x":322},{"b":32.5,"y":800,"x":300},{"b":32.5,"y":1000,"x":265},{"b":32.5,"y":1200,"x":235},{"b":32.5,"y":1440,"x":215},{"b":32.5,"y":1740,"x":205},{"b":32.5,"y":1940,"x":172},{"b":32.5,"y":2090,"x":140},{"b":32.5,"y":2240,"x":114},{"b":32.5,"y":2340,"x":104},{"b":32.5,"y":2440,"x":121},{"b":32.5,"y":2540,"x":152},{"b":32.5,"y":2700,"x":158},
{"b":30,"y":145,"x":320},{"b":30,"y":190,"x":310},{"b":30,"y":295,"x":370},{"b":30,"y":380,"x":350},{"b":30,"y":550,"x":350},{"b":30,"y":650,"x":355},{"b":30,"y":850,"x":325},{"b":30,"y":1000,"x":300},{"b":30,"y":1200,"x":275},{"b":30,"y":1440,"x":247},{"b":30,"y":1740,"x":235},{"b":30,"y":1940,"x":190},{"b":30,"y":2090,"x":152},{"b":30,"y":2240,"x":118},{"b":30,"y":2340,"x":105},{"b":30,"y":2440,"x":126},{"b":30,"y":2540,"x":160},{"b":30,"y":2700,"x":170},
{"b":27.5,"y":145,"x":440},{"b":27.5,"y":195,"x":440},{"b":27.5,"y":220,"x":385},{"b":27.5,"y":290,"x":400},{"b":27.5,"y":370,"x":420},{"b":27.5,"y":450,"x":405},{"b":27.5,"y":560,"x":390},{"b":27.5,"y":720,"x":375},{"b":27.5,"y":950,"x":350},{"b":27.5,"y":1100,"x":320},{"b":27.5,"y":1300,"x":300},{"b":27.5,"y":1440,"x":278},{"b":27.5,"y":1740,"x":265},{"b":27.5,"y":1940,"x":215},{"b":27.5,"y":2090,"x":168},{"b":27.5,"y":2240,"x":124},{"b":27.5,"y":2340,"x":106},{"b":27.5,"y":2440,"x":130},{"b":27.5,"y":2540,"x":168},{"b":27.5,"y":2700,"x":182},
{"b":25,"y":145,"x":555},{"b":25,"y":170,"x":555},{"b":25,"y":270,"x":595},{"b":25,"y":340,"x":550},{"b":25,"y":500,"x":545},{"b":25,"y":610,"x":505},{"b":25,"y":650,"x":450},{"b":25,"y":730,"x":415},{"b":25,"y":880,"x":385},{"b":25,"y":1040,"x":355},{"b":25,"y":1250,"x":345},{"b":25,"y":1440,"x":310},{"b":25,"y":1740,"x":300},{"b":25,"y":1940,"x":245},{"b":25,"y":2090,"x":190},{"b":25,"y":2240,"x":130},{"b":25,"y":2340,"x":107},{"b":25,"y":2440,"x":135},{"b":25,"y":2540,"x":176},{"b":25,"y":2700,"x":195},
{"b":22.5,"y":145,"x":635},{"b":22.5,"y":220,"x":630},{"b":22.5,"y":320,"x":655},{"b":22.5,"y":460,"x":600},{"b":22.5,"y":660,"x":560},{"b":22.5,"y":770,"x":530},{"b":22.5,"y":850,"x":465},{"b":22.5,"y":900,"x":420},{"b":22.5,"y":1040,"x":395},{"b":22.5,"y":1200,"x":370},{"b":22.5,"y":1440,"x":340},{"b":22.5,"y":1740,"x":335},{"b":22.5,"y":1940,"x":280},{"b":22.5,"y":2090,"x":215},{"b":22.5,"y":2240,"x":137},{"b":22.5,"y":2340,"x":109},{"b":22.5,"y":2440,"x":140},{"b":22.5,"y":2540,"x":185},{"b":22.5,"y":2700,"x":210},
{"b":20,"y":145,"x":720},{"b":20,"y":200,"x":715},{"b":20,"y":240,"x":695},{"b":20,"y":340,"x":705},{"b":20,"y":430,"x":670},{"b":20,"y":560,"x":640},{"b":20,"y":700,"x":620},{"b":20,"y":800,"x":590},{"b":20,"y":880,"x":550},{"b":20,"y":970,"x":520},{"b":20,"y":1030,"x":470},{"b":20,"y":1090,"x":420},{"b":20,"y":1200,"x":400},{"b":20,"y":1300,"x":385},{"b":20,"y":1440,"x":375},{"b":20,"y":1740,"x":370},{"b":20,"y":1940,"x":320},{"b":20,"y":2090,"x":250},{"b":20,"y":2240,"x":145},{"b":20,"y":2340,"x":110},{"b":20,"y":2440,"x":145},{"b":20,"y":2540,"x":195},{"b":20,"y":2700,"x":225},
{"b":17.5,"y":145,"x":800},{"b":17.5,"y":235,"x":805},{"b":17.5,"y":290,"x":768},{"b":17.5,"y":420,"x":785},{"b":17.5,"y":510,"x":755},{"b":17.5,"y":600,"x":710},{"b":17.5,"y":720,"x":660},{"b":17.5,"y":800,"x":625},{"b":17.5,"y":900,"x":600},{"b":17.5,"y":1000,"x":575},{"b":17.5,"y":1100,"x":530},{"b":17.5,"y":1200,"x":480},{"b":17.5,"y":1300,"x":445},{"b":17.5,"y":1440,"x":430},{"b":17.5,"y":1540,"x":432},{"b":17.5,"y":1640,"x":437},{"b":17.5,"y":1760,"x":440},{"b":17.5,"y":1860,"x":425},{"b":17.5,"y":1960,"x":395},{"b":17.5,"y":2060,"x":345},{"b":17.5,"y":2130,"x":280},{"b":17.5,"y":2160,"x":230},{"b":17.5,"y":2230,"x":165},{"b":17.5,"y":2270,"x":135},{"b":17.5,"y":2340,"x":112},{"b":17.5,"y":2440,"x":150},{"b":17.5,"y":2540,"x":205},{"b":17.5,"y":2630,"x":240},{"b":17.5,"y":2700,"x":240},
{"b":15,"y":145,"x":878},{"b":15,"y":210,"x":875},{"b":15,"y":275,"x":890},{"b":15,"y":350,"x":865},{"b":15,"y":500,"x":855},{"b":15,"y":600,"x":835},{"b":15,"y":690,"x":800},{"b":15,"y":750,"x":770},{"b":15,"y":830,"x":715},{"b":15,"y":900,"x":670},{"b":15,"y":1000,"x":640},{"b":15,"y":1060,"x":610},{"b":15,"y":1160,"x":580},{"b":15,"y":1280,"x":555},{"b":15,"y":1400,"x":530},{"b":15,"y":1740,"x":530},{"b":15,"y":1960,"x":535},{"b":15,"y":2045,"x":515},{"b":15,"y":2100,"x":480},{"b":15,"y":2150,"x":445},{"b":15,"y":2205,"x":440},{"b":15,"y":2210,"x":270},{"b":15,"y":2240,"x":210},{"b":15,"y":2270,"x":165},{"b":15,"y":2320,"x":130},{"b":15,"y":2390,"x":125},{"b":15,"y":2460,"x":165},{"b":15,"y":2530,"x":205},{"b":15,"y":2590,"x":230},{"b":15,"y":2640,"x":243},{"b":15,"y":2700,"x":243},
{"b":12.5,"y":145,"x":950},{"b":12.5,"y":230,"x":950},{"b":12.5,"y":320,"x":960},{"b":12.5,"y":430,"x":925},{"b":12.5,"y":560,"x":910},{"b":12.5,"y":700,"x":880},{"b":12.5,"y":800,"x":845},{"b":12.5,"y":900,"x":815},{"b":12.5,"y":980,"x":760},{"b":12.5,"y":1050,"x":710},{"b":12.5,"y":1130,"x":675},{"b":12.5,"y":1250,"x":625},{"b":12.5,"y":1380,"x":600},{"b":12.5,"y":1440,"x":598},{"b":12.5,"y":1640,"x":600},{"b":12.5,"y":1750,"x":615},{"b":12.5,"y":1900,"x":635},{"b":12.5,"y":2100,"x":650},{"b":12.5,"y":2200,"x":645},{"b":12.5,"y":2290,"x":625},{"b":12.5,"y":2380,"x":622},{"b":12.5,"y":2490,"x":640},{"b":12.5,"y":2520,"x":655},{"b":12.5,"y":2560,"x":640},{"b":12.5,"y":2700,"x":640},
{"b":10,"y":145,"x":1025},{"b":10,"y":260,"x":1018},{"b":10,"y":360,"x":1025},{"b":10,"y":500,"x":990},{"b":10,"y":620,"x":965},{"b":10,"y":720,"x":945},{"b":10,"y":900,"x":905},{"b":10,"y":1020,"x":860},{"b":10,"y":1130,"x":800},{"b":10,"y":1270,"x":745},{"b":10,"y":1380,"x":715},{"b":10,"y":1440,"x":710},{"b":10,"y":1600,"x":720},{"b":10,"y":1750,"x":745},{"b":10,"y":1950,"x":775},{"b":10,"y":2140,"x":790},{"b":10,"y":2240,"x":800},{"b":10,"y":2400,"x":805},{"b":10,"y":2460,"x":795},{"b":10,"y":2530,"x":805},{"b":10,"y":2700,"x":805}
],
"c3":[
{"p":"a","b":7.5,"y":145,"x":1113,"e":1450},{"p":"a","b":7.5,"y":230,"x":1112,"e":1450},{"p":"a","b":7.5,"y":270,"x":1095,"e":1452},{"p":"a","b":7.5,"y":340,"x":1095,"e":1454},{"p":"a","b":7.5,"y":440,"x":1105,"e":1465},{"p":"a","b":7.5,"y":520,"x":1095,"e":1492},{"p":"a","b":7.5,"y":600,"x":1075,"e":1480},{"p":"a","b":7.5,"y":650,"x":1060,"e":1495},{"p":"a","b":7.5,"y":700,"x":1050,"e":1503},{"p":"a","b":7.5,"y":820,"x":1025,"e":1503},{"p":"a","b":7.5,"y":950,"x":985,"e":1503},{"p":"a","b":7.5,"y":1100,"x":925,"e":1503},{"p":"a","b":7.5,"y":1230,"x":885,"e":1503},{"p":"a","b":7.5,"y":1370,"x":855,"e":1503},{"p":"a","b":7.5,"y":1440,"x":850,"e":1503},{"p":"a","b":7.5,"y":1590,"x":848,"e":1503},{"p":"a","b":7.5,"y":1740,"x":870,"e":1503},{"p":"a","b":7.5,"y":1890,"x":885,"e":1503},{"p":"a","b":7.5,"y":2040,"x":900,"e":1503},{"p":"a","b":7.5,"y":2140,"x":912,"e":1503},{"p":"a","b":7.5,"y":2240,"x":915,"e":1503},{"p":"a","b":7.5,"y":2300,"x":915,"e":1490},{"p":"a","b":7.5,"y":2340,"x":925,"e":1482},{"p":"a","b":7.5,"y":2440,"x":925,"e":1480},{"p":"a","b":7.5,"y":2520,"x":918,"e":1503},{"p":"a","b":7.5,"y":2700,"x":918,"e":1503},
{"p":"b","b":5,"y":160,"x":1243,"e":1335},{"p":"b","b":5,"y":190,"x":1245,"e":1332},{"p":"b","b":5,"y":240,"x":1245,"e":1330},{"p":"b","b":5,"y":270,"x":1258,"e":1355},{"p":"b","b":5,"y":300,"x":1290,"e":1355},{"p":"b","b":5,"y":330,"x":1285,"e":1355},{"p":"b","b":5,"y":350,"x":1270,"e":1330},{"p":"b","b":5,"y":370,"x":1240,"e":1345},{"p":"b","b":5,"y":430,"x":1225,"e":1350},{"p":"b","b":5,"y":480,"x":1222,"e":1358},{"p":"b","b":5,"y":600,"x":1228,"e":1378},{"p":"b","b":5,"y":780,"x":1200,"e":1395},{"p":"b","b":5,"y":850,"x":1185,"e":1415},{"p":"b","b":5,"y":930,"x":1175,"e":1432},{"p":"b","b":5,"y":1000,"x":1150,"e":1445},{"p":"b","b":5,"y":1060,"x":1130,"e":1475},{"p":"b","b":5,"y":1065,"x":1128,"e":1503},{"p":"b","b":5,"y":1160,"x":1100,"e":1503},{"p":"b","b":5,"y":1250,"x":1050,"e":1503},{"p":"b","b":5,"y":1340,"x":1015,"e":1503},{"p":"b","b":5,"y":1440,"x":995,"e":1503},{"p":"b","b":5,"y":1740,"x":1002,"e":1503},{"p":"b","b":5,"y":1940,"x":1010,"e":1503},{"p":"b","b":5,"y":1960,"x":1010,"e":1490},{"p":"b","b":5,"y":2040,"x":1015,"e":1470},{"p":"b","b":5,"y":2120,"x":1020,"e":1448},{"p":"b","b":5,"y":2240,"x":1020,"e":1420},{"p":"b","b":5,"y":2400,"x":1030,"e":1403},{"p":"b","b":5,"y":2700,"x":1030,"e":1397},
{"p":"c","b":2.5,"y":1155,"x":1330,"e":1330},{"p":"c","b":2.5,"y":1165,"x":1310,"e":1365},{"p":"c","b":2.5,"y":1210,"x":1290,"e":1400},{"p":"c","b":2.5,"y":1265,"x":1265,"e":1440},{"p":"c","b":2.5,"y":1285,"x":1255,"e":1470},{"p":"c","b":2.5,"y":1290,"x":1253,"e":1503},{"p":"c","b":2.5,"y":1440,"x":1210,"e":1503},{"p":"c","b":2.5,"y":1540,"x":1175,"e":1497},{"p":"c","b":2.5,"y":1660,"x":1145,"e":1480},{"p":"c","b":2.5,"y":1800,"x":1135,"e":1420},{"p":"c","b":2.5,"y":1890,"x":1130,"e":1385},{"p":"c","b":2.5,"y":1970,"x":1128,"e":1365},{"p":"c","b":2.5,"y":2090,"x":1125,"e":1335},{"p":"c","b":2.5,"y":2240,"x":1128,"e":1315},{"p":"c","b":2.5,"y":2390,"x":1130,"e":1300},{"p":"c","b":2.5,"y":2700,"x":1133,"e":1295},
{"p":"t1","b":32.5,"y":215,"x":100,"e":245},{"p":"t1","b":32.5,"y":260,"x":125,"e":262},{"p":"t1","b":32.5,"y":300,"x":160,"e":270},{"p":"t1","b":32.5,"y":340,"x":190,"e":240},{"p":"t1","b":32.5,"y":350,"x":200,"e":215},
{"p":"t2","b":30,"y":160,"x":110,"e":215},{"p":"t2","b":30,"y":190,"x":100,"e":190},{"p":"t2","b":30,"y":220,"x":120,"e":215},{"p":"t2","b":30,"y":260,"x":170,"e":225},{"p":"t2","b":30,"y":280,"x":185,"e":215},
{"p":"t3","b":20,"y":150,"x":83,"e":128},{"p":"t3","b":20,"y":175,"x":85,"e":115},{"p":"t3","b":20,"y":195,"x":90,"e":100},
{"p":"t4","b":17.5,"y":160,"x":85,"e":105},{"p":"t4","b":17.5,"y":190,"x":88,"e":98},
{"p":"t5","b":17.5,"y":2210,"x":300,"e":435},{"p":"t5","b":17.5,"y":2225,"x":375,"e":405},
{"p":"v1","b":12.5,"y":2278,"x":210,"e":265},{"p":"v1","b":12.5,"y":2290,"x":170,"e":290},{"p":"v1","b":12.5,"y":2320,"x":135,"e":320},{"p":"v1","b":12.5,"y":2370,"x":122,"e":335},{"p":"v1","b":12.5,"y":2400,"x":125,"e":345},{"p":"v1","b":12.5,"y":2425,"x":150,"e":315},{"p":"v1","b":12.5,"y":2490,"x":180,"e":270},{"p":"v1","b":12.5,"y":2535,"x":210,"e":238},
{"p":"v6","b":12.5,"y":2420,"x":365,"e":370},{"p":"v6","b":12.5,"y":2440,"x":365,"e":405},{"p":"v6","b":12.5,"y":2470,"x":370,"e":432},{"p":"v6","b":12.5,"y":2490,"x":378,"e":448},{"p":"v6","b":12.5,"y":2518,"x":392,"e":430},
{"p":"v2","b":10,"y":2310,"x":160,"e":190},{"p":"v2","b":10,"y":2330,"x":140,"e":225},{"p":"v2","b":10,"y":2380,"x":125,"e":245},{"p":"v2","b":10,"y":2430,"x":140,"e":240},{"p":"v2","b":10,"y":2470,"x":180,"e":225},{"p":"v2","b":10,"y":2485,"x":205,"e":215},
{"p":"v3","b":7.5,"y":2330,"x":160,"e":180},{"p":"v3","b":7.5,"y":2360,"x":135,"e":205},{"p":"v3","b":7.5,"y":2410,"x":135,"e":218},{"p":"v3","b":7.5,"y":2440,"x":170,"e":205},{"p":"v3","b":7.5,"y":2450,"x":185,"e":195},
{"p":"v4","b":5,"y":2345,"x":160,"e":175},{"p":"v4","b":5,"y":2380,"x":145,"e":192},{"p":"v4","b":5,"y":2410,"x":155,"e":195},{"p":"v4","b":5,"y":2425,"x":175,"e":180},
{"p":"v5","b":2.5,"y":2375,"x":170,"e":170},{"p":"v5","b":2.5,"y":2385,"x":158,"e":180},{"p":"v5","b":2.5,"y":2395,"x":170,"e":172}
],
"m3":[{"m":"t","x":0,"y":150,"z":100},{"m":"t","x":800,"y":157,"z":100},{"m":"t","x":1120,"y":160,"z":100},{"m":"t","x":1600,"y":165,"z":100},
{"m":"b","x":0,"y":2690,"z":2985},{"m":"b","x":78,"y":2690,"z":2985},{"m":"b","x":240,"y":2642,"z":2985},{"m":"b","x":450,"y":2595,"z":2985},{"m":"b","x":800,"y":2537,"z":2985},{"m":"b","x":1000,"y":2522,"z":2985},{"m":"b","x":1200,"y":2519,"z":2985},{"m":"b","x":1600,"y":2521,"z":2985}],
"t3":[{"t":"LE","x":154,"y":78},{"t":"TE","x":1434,"y":78},{"t":"(c) Case 3","x":771,"y":2930}],
"bar":[{"b":0,"lo":-1.16,"hi":0},{"b":2.5,"lo":0,"hi":2.5},{"b":5,"lo":2.5,"hi":5},{"b":7.5,"lo":5,"hi":7.5},{"b":10,"lo":7.5,"hi":10},{"b":12.5,"lo":10,"hi":12.5},{"b":15,"lo":12.5,"hi":15},{"b":17.5,"lo":15,"hi":17.5},{"b":20,"lo":17.5,"hi":20},{"b":22.5,"lo":20,"hi":22.5},{"b":25,"lo":22.5,"hi":25},{"b":27.5,"lo":25,"hi":27.5},{"b":30,"lo":27.5,"hi":30},{"b":32.5,"lo":30,"hi":32.5},{"b":35,"lo":32.5,"hi":35},{"b":37.5,"lo":35,"hi":37.5},{"b":40,"lo":37.5,"hi":40},{"b":42.5,"lo":40,"hi":42.5},{"b":45,"lo":42.5,"hi":45},{"b":47.5,"lo":45,"hi":47.5},{"b":50,"lo":47.5,"hi":50},{"b":51,"lo":50,"hi":51.3}]
},
"hconcat":[
{"width":740,"height":1015,"encoding":{"x":{"field":"x","type":"quantitative","axis":null,"scale":{"domain":[0,1706.2],"nice":false,"zero":false}},"y":{"field":"y","type":"quantitative","axis":null,"scale":{"domain":[-60,2985],"reverse":true,"nice":false,"zero":false}}},
"layer":[
{"data":{"name":"o1"},"mark":{"type":"area","orient":"horizontal"},"encoding":{"x2":{"datum":1480},"color":{"field":"b","type":"ordinal","legend":null,"scale":{"domain":[0,2.5,5,7.5,10,12.5,15,17.5,20,22.5,25,27.5,30,32.5,35,37.5,40,42.5,45,47.5,50,51],"range":["#4572b4","#5b89bd","#709fc9","#88b3d6","#9ec4de","#b3d3e6","#c9e2ef","#dff2f8","#e9f4e8","#f2f9d8","#f9fdc8","#fef8b5","#fef3a9","#fee89b","#fde08f","#fec880","#fdab6d","#fc9459","#f67f4f","#ec6541","#e34933","#d73027"]}}}},
{"data":{"name":"c1"},"mark":{"type":"area","orient":"horizontal"},"encoding":{"x2":{"field":"e"},"detail":{"field":"p"},"color":{"field":"b","type":"ordinal","legend":null}}},
{"data":{"name":"m1"},"mark":{"type":"area","orient":"vertical","color":"#fff"},"encoding":{"y2":{"field":"z"},"detail":{"field":"m"}}},
{"data":{"name":"t1"},"mark":{"type":"text","baseline":"alphabetic","align":"center"},"encoding":{"text":{"field":"t"}}}
]},
{"width":750,"height":1015,"encoding":{"x":{"field":"x","type":"quantitative","axis":null,"scale":{"domain":[0,1729.3],"nice":false,"zero":false}},"y":{"field":"y","type":"quantitative","axis":null,"scale":{"domain":[-60,2985],"reverse":true,"nice":false,"zero":false}}},
"layer":[
{"data":{"name":"o2"},"mark":{"type":"area","orient":"horizontal"},"encoding":{"x2":{"datum":1497},"color":{"field":"b","type":"ordinal","legend":null,"scale":{"domain":[0,2.5,5,7.5,10,12.5,15,17.5,20,22.5,25,27.5,30,32.5,35,37.5,40,42.5,45,47.5,50,51],"range":["#4572b4","#5b89bd","#709fc9","#88b3d6","#9ec4de","#b3d3e6","#c9e2ef","#dff2f8","#e9f4e8","#f2f9d8","#f9fdc8","#fef8b5","#fef3a9","#fee89b","#fde08f","#fec880","#fdab6d","#fc9459","#f67f4f","#ec6541","#e34933","#d73027"]}}}},
{"data":{"name":"c2"},"mark":{"type":"area","orient":"horizontal"},"encoding":{"x2":{"field":"e"},"detail":{"field":"p"},"color":{"field":"b","type":"ordinal","legend":null}}},
{"data":{"name":"m2"},"mark":{"type":"area","orient":"vertical","color":"#fff"},"encoding":{"y2":{"field":"z"},"detail":{"field":"m"}}},
{"data":{"name":"t2"},"mark":{"type":"text","baseline":"alphabetic","align":"center"},"encoding":{"text":{"field":"t"}}}
]},
{"width":750,"height":1015,"encoding":{"x":{"field":"x","type":"quantitative","axis":null,"scale":{"domain":[0,1729.3],"nice":false,"zero":false}},"y":{"field":"y","type":"quantitative","axis":null,"scale":{"domain":[-60,2985],"reverse":true,"nice":false,"zero":false}}},
"layer":[
{"data":{"name":"o3"},"mark":{"type":"area","orient":"horizontal"},"encoding":{"x2":{"datum":1503},"color":{"field":"b","type":"ordinal","legend":null,"scale":{"domain":[0,2.5,5,7.5,10,12.5,15,17.5,20,22.5,25,27.5,30,32.5,35,37.5,40,42.5,45,47.5,50,51],"range":["#4572b4","#5b89bd","#709fc9","#88b3d6","#9ec4de","#b3d3e6","#c9e2ef","#dff2f8","#e9f4e8","#f2f9d8","#f9fdc8","#fef8b5","#fef3a9","#fee89b","#fde08f","#fec880","#fdab6d","#fc9459","#f67f4f","#ec6541","#e34933","#d73027"]}}}},
{"data":{"name":"c3"},"mark":{"type":"area","orient":"horizontal"},"encoding":{"x2":{"field":"e"},"detail":{"field":"p"},"color":{"field":"b","type":"ordinal","legend":null}}},
{"data":{"name":"m3"},"mark":{"type":"area","orient":"vertical","color":"#fff"},"encoding":{"y2":{"field":"z"},"detail":{"field":"m"}}},
{"data":{"name":"t3"},"mark":{"type":"text","baseline":"alphabetic","align":"center"},"encoding":{"text":{"field":"t"}}}
]},
{"width":127,"height":1015,
"layer":[
{"data":{"name":"bar"},"mark":{"type":"rect"},"encoding":{"x":{"value":41},"x2":{"value":127},"y":{"field":"lo","type":"quantitative","title":null,"scale":{"domain":[-10.45,58.88],"nice":false,"zero":false},"axis":{"orient":"right","values":[0,10,20,30,40,50],"domain":false,"ticks":false,"grid":false,"labelFont":"Liberation Serif","labelFontSize":52,"labelColor":"#000","labelPadding":21,"labelBaseline":"middle"}},"y2":{"field":"hi"},"color":{"field":"b","type":"ordinal","legend":null,"scale":{"domain":[0,2.5,5,7.5,10,12.5,15,17.5,20,22.5,25,27.5,30,32.5,35,37.5,40,42.5,45,47.5,50,51],"range":["#4572b4","#5b89bd","#709fc9","#88b3d6","#9ec4de","#b3d3e6","#c9e2ef","#dff2f8","#e9f4e8","#f2f9d8","#f9fdc8","#fef8b5","#fef3a9","#fee89b","#fde08f","#fec880","#fdab6d","#fc9459","#f67f4f","#ec6541","#e34933","#d73027"]}}}},
{"data":{"values":[{"t":"A"}]},"mark":{"type":"text","baseline":"alphabetic","align":"right","fontStyle":"italic"},"encoding":{"text":{"field":"t"},"x":{"value":100},"y":{"datum":53.28}}},
{"data":{"values":[{"t":"/Pa"}]},"mark":{"type":"text","baseline":"alphabetic","align":"left"},"encoding":{"text":{"field":"t"},"x":{"value":100},"y":{"datum":53.28}}}
]}
]}
